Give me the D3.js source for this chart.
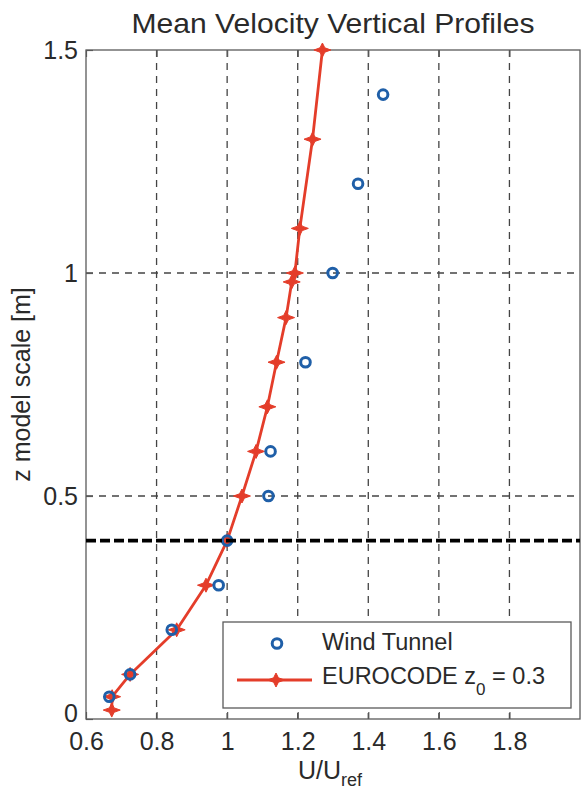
<!DOCTYPE html>
<html>
<head>
<meta charset="utf-8">
<script src="https://cdn.jsdelivr.net/npm/d3@7/dist/d3.min.js"></script>
<style>
  html, body { margin: 0; padding: 0; background: #fff; }
  svg { display: block; font-family: "Liberation Sans", Arial, Helvetica, sans-serif; }
</style>
</head>
<body>
<svg id="chart" width="582" height="789"></svg>
<script>
// Mean velocity vertical profiles: wind tunnel measurements vs EUROCODE log profile
const tunnelZ = [0.05, 0.1, 0.2, 0.3, 0.4, 0.5, 0.6, 0.8, 1.0, 1.2, 1.4];
const tunnelU = [0.666, 0.725, 0.843, 0.976, 1.0, 1.117, 1.123, 1.222, 1.299, 1.371, 1.442];

const eurocodeZ = [0.02, 0.05, 0.1, 0.2, 0.3, 0.4, 0.5, 0.6, 0.7, 0.8, 0.9, 0.98, 1.0, 1.1, 1.3, 1.5];
const eurocodeU = [0.673, 0.674, 0.725, 0.857, 0.94, 1.0, 1.042, 1.082, 1.114, 1.14, 1.167, 1.183, 1.192, 1.206, 1.242, 1.27];

const xTicks = [0.6, 0.8, 1, 1.2, 1.4, 1.6, 1.8];
const yTicks = [0, 0.5, 1, 1.5];
const refHeight = [0.4];

const titleText = "Mean Velocity Vertical Profiles";
const yLabelText = "z model scale [m]";
const legendLabels = ["Wind Tunnel", "EUROCODE z", "0", " = 0.3"];

const svg = d3.select("#chart");
const plotLeft = 86, plotRight = 580, plotTop = 50, plotBottom = 719;

const x = d3.scaleLinear().domain([0.6, 2.0]).range([plotLeft, plotRight]);
const y = d3.scaleLinear().domain([0, 1.5]).range([plotBottom, plotTop]);

const red = "#e43d2a";
const blue = "#1f5fa8";
const axisColor = "#5a5a5a";
const textColor = "#2a2a2a";

// dashed grid
const grid = svg.append("g");
grid.selectAll("line.vg").data(xTicks.filter(v => v > 0.6)).join("line")
  .attr("class", "vg")
  .attr("x1", d => x(d)).attr("x2", d => x(d))
  .attr("y1", plotTop).attr("y2", plotBottom)
  .attr("stroke", "#444").attr("stroke-width", 1.3)
  .attr("stroke-dasharray", "7,6");
grid.selectAll("line.hg").data(yTicks.filter(v => v > 0 && v < 1.5)).join("line")
  .attr("class", "hg")
  .attr("x1", plotLeft).attr("x2", plotRight)
  .attr("y1", d => y(d)).attr("y2", d => y(d))
  .attr("stroke", "#444").attr("stroke-width", 1.3)
  .attr("stroke-dasharray", "7,6");

// axes via d3 axis generators, ticks pointing inward
const xAxisBottom = d3.axisBottom(x).tickValues(xTicks).tickSizeInner(-7).tickSizeOuter(0)
  .tickFormat(d3.format("~g")).tickPadding(13);
const gx = svg.append("g").attr("transform", `translate(0,${plotBottom})`).call(xAxisBottom);
gx.select(".domain").remove();
gx.selectAll(".tick line").attr("stroke", axisColor).attr("stroke-width", 1.2);
gx.selectAll(".tick text").attr("font-size", 25).attr("fill", textColor)
  .attr("font-family", "Liberation Sans, Arial, sans-serif").attr("dy", "0.72em");

const xAxisTop = d3.axisTop(x).tickValues(xTicks).tickSizeInner(-7).tickSizeOuter(0).tickFormat("");
const gxt = svg.append("g").attr("transform", `translate(0,${plotTop})`).call(xAxisTop);
gxt.select(".domain").remove();
gxt.selectAll(".tick line").attr("stroke", axisColor).attr("stroke-width", 1.2);

const yAxisLeft = d3.axisLeft(y).tickValues(yTicks).tickSizeInner(-7).tickSizeOuter(0)
  .tickFormat(d3.format("~g")).tickPadding(8);
const gy = svg.append("g").attr("transform", `translate(${plotLeft},0)`).call(yAxisLeft);
gy.select(".domain").remove();
gy.selectAll(".tick line").attr("stroke", axisColor).attr("stroke-width", 1.2);
gy.selectAll(".tick text").attr("font-size", 25).attr("fill", textColor)
  .attr("font-family", "Liberation Sans, Arial, sans-serif")
  .attr("dy", d => d === 0 ? "0.1em" : "0.32em");

// plot frame
svg.append("rect")
  .attr("x", plotLeft).attr("y", plotTop)
  .attr("width", plotRight - plotLeft).attr("height", plotBottom - plotTop)
  .attr("fill", "none").attr("stroke", axisColor).attr("stroke-width", 1.3);

// four-point star marker used for the EUROCODE curve
const starPath = "M-8.5,0 L-2.4,-2.2 L0,-7 L2.4,-2.2 L8.5,0 L2.4,2.2 L0,7 L-2.4,2.2 Z";

const eurocode = eurocodeZ.map((z, i) => ({ z, u: eurocodeU[i] }));
const tunnel = tunnelZ.map((z, i) => ({ z, u: tunnelU[i] }));

const line = d3.line().x(d => x(d.u)).y(d => y(d.z));
svg.append("path").datum(eurocode)
  .attr("d", line).attr("fill", "none")
  .attr("stroke", red).attr("stroke-width", 2.8).attr("stroke-linejoin", "round");
svg.append("g").selectAll("path").data(eurocode).join("path")
  .attr("d", starPath)
  .attr("transform", d => `translate(${x(d.u)},${y(d.z)})`)
  .attr("fill", red).attr("stroke", red).attr("stroke-width", 1);

svg.append("g").selectAll("circle").data(tunnel).join("circle")
  .attr("cx", d => x(d.u)).attr("cy", d => y(d.z)).attr("r", 4.8)
  .attr("fill", "none").attr("stroke", blue).attr("stroke-width", 3);

// reference height line
svg.append("g").selectAll("line").data(refHeight).join("line")
  .attr("x1", plotLeft).attr("x2", plotRight)
  .attr("y1", d => y(d)).attr("y2", d => y(d))
  .attr("stroke", "#000").attr("stroke-width", 3.6)
  .attr("stroke-dasharray", "10,4");

// title
svg.append("text")
  .attr("x", (plotLeft + plotRight) / 2).attr("y", 33)
  .attr("text-anchor", "middle").attr("font-size", 28).attr("fill", textColor)
  .attr("textLength", 403).attr("lengthAdjust", "spacingAndGlyphs")
  .text(titleText);

// y-axis label
svg.append("text")
  .attr("transform", `translate(30,${(plotTop + plotBottom) / 2}) rotate(-90)`)
  .attr("text-anchor", "middle").attr("font-size", 25).attr("fill", textColor)
  .text(yLabelText);

// x-axis label U/U_ref
const xl = svg.append("text")
  .attr("x", 330).attr("y", 779)
  .attr("text-anchor", "middle").attr("font-size", 25).attr("fill", textColor);
xl.append("tspan").text("U/U");
xl.append("tspan").attr("font-size", 18).attr("dy", 7).text("ref");

// legend
const lg = svg.append("g");
lg.append("rect")
  .attr("x", 223).attr("y", 622).attr("width", 348).attr("height", 86)
  .attr("fill", "#fff").attr("stroke", axisColor).attr("stroke-width", 1.3);
lg.append("circle").attr("cx", 277).attr("cy", 643.5).attr("r", 4.8)
  .attr("fill", "none").attr("stroke", blue).attr("stroke-width", 3);
lg.append("text").attr("x", 322).attr("y", 650)
  .attr("font-size", 23.5).attr("fill", textColor).text(legendLabels[0]);
lg.append("line").attr("x1", 237).attr("x2", 312).attr("y1", 680).attr("y2", 680)
  .attr("stroke", red).attr("stroke-width", 2.8);
lg.append("path").attr("d", starPath).attr("transform", "translate(276,680)")
  .attr("fill", red).attr("stroke", red).attr("stroke-width", 1);
const lt = lg.append("text").attr("x", 322).attr("y", 683.5)
  .attr("font-size", 23.5).attr("fill", textColor);
lt.append("tspan").text(legendLabels[1]);
lt.append("tspan").attr("font-size", 17).attr("dy", 11).text(legendLabels[2]);
lt.append("tspan").attr("dy", -11).attr("xml:space", "preserve").text(legendLabels[3]);
</script>
</body>
</html>
